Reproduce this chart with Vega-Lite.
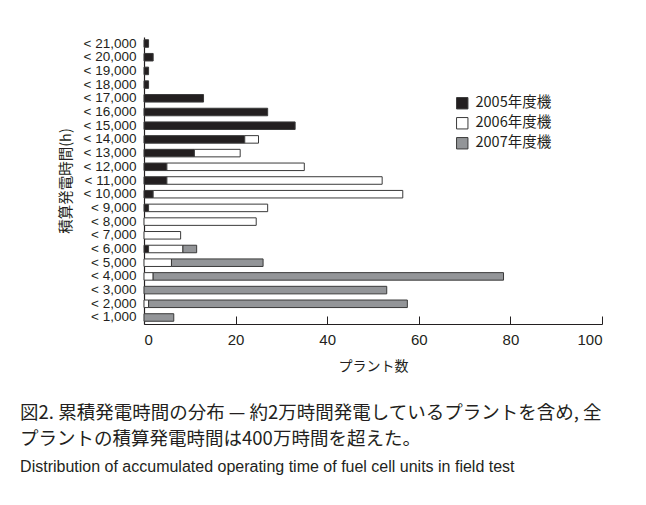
{
  "$schema": "https://vega.github.io/schema/vega-lite/v6.json",
  "width": 458,
  "height": 287,
  "autosize": {"type": "none"},
  "padding": {"left": 144, "top": 37, "right": 44, "bottom": 181},
  "background": "white",
  "config": {"view": {"stroke": null}},
  "title": {
    "text": ["図2. 累積発電時間の分布 — 約2万時間発電しているプラントを含め, 全", "プラントの積算発電時間は400万時間を超えた。"],
    "subtitle": "Distribution of accumulated operating time of fuel cell units in field test",
    "orient": "bottom",
    "anchor": "start",
    "frame": "bounds",
    "offset": 31,
    "dx": -38,
    "font": "Noto Sans CJK JP",
    "fontSize": 18.5,
    "fontWeight": "normal",
    "color": "#231f20",
    "lineHeight": 26,
    "subtitleFont": "Liberation Sans",
    "subtitleFontSize": 16,
    "subtitleColor": "#231f20",
    "subtitlePadding": 10
  },
  "data": {
    "values": [
      {"range": "< 21,000", "year": "2005年度機", "count": 1},
      {"range": "< 20,000", "year": "2005年度機", "count": 2},
      {"range": "< 19,000", "year": "2005年度機", "count": 1},
      {"range": "< 18,000", "year": "2005年度機", "count": 1},
      {"range": "< 17,000", "year": "2005年度機", "count": 13},
      {"range": "< 16,000", "year": "2005年度機", "count": 27},
      {"range": "< 15,000", "year": "2005年度機", "count": 33},
      {"range": "< 14,000", "year": "2005年度機", "count": 22},
      {"range": "< 14,000", "year": "2006年度機", "count": 3},
      {"range": "< 13,000", "year": "2005年度機", "count": 11},
      {"range": "< 13,000", "year": "2006年度機", "count": 10},
      {"range": "< 12,000", "year": "2005年度機", "count": 5},
      {"range": "< 12,000", "year": "2006年度機", "count": 30},
      {"range": "< 11,000", "year": "2005年度機", "count": 5},
      {"range": "< 11,000", "year": "2006年度機", "count": 47},
      {"range": "< 10,000", "year": "2005年度機", "count": 2},
      {"range": "< 10,000", "year": "2006年度機", "count": 54.5},
      {"range": "< 9,000", "year": "2005年度機", "count": 1},
      {"range": "< 9,000", "year": "2006年度機", "count": 26},
      {"range": "< 8,000", "year": "2006年度機", "count": 24.5},
      {"range": "< 7,000", "year": "2006年度機", "count": 8},
      {"range": "< 6,000", "year": "2005年度機", "count": 1},
      {"range": "< 6,000", "year": "2006年度機", "count": 7.5},
      {"range": "< 6,000", "year": "2007年度機", "count": 3},
      {"range": "< 5,000", "year": "2006年度機", "count": 6},
      {"range": "< 5,000", "year": "2007年度機", "count": 20},
      {"range": "< 4,000", "year": "2006年度機", "count": 2},
      {"range": "< 4,000", "year": "2007年度機", "count": 76.5},
      {"range": "< 3,000", "year": "2007年度機", "count": 53},
      {"range": "< 2,000", "year": "2006年度機", "count": 1},
      {"range": "< 2,000", "year": "2007年度機", "count": 56.5},
      {"range": "< 1,000", "year": "2007年度機", "count": 6.5}
    ]
  },
  "mark": {"type": "bar", "stroke": "#3a3a3a", "strokeWidth": 1},
  "encoding": {
    "y": {
      "field": "range",
      "type": "nominal",
      "sort": ["< 21,000", "< 20,000", "< 19,000", "< 18,000", "< 17,000", "< 16,000", "< 15,000", "< 14,000", "< 13,000", "< 12,000", "< 11,000", "< 10,000", "< 9,000", "< 8,000", "< 7,000", "< 6,000", "< 5,000", "< 4,000", "< 3,000", "< 2,000", "< 1,000"],
      "scale": {"paddingInner": 0.45, "paddingOuter": 0.2},
      "axis": {
        "title": "積算発電時間(h)",
        "titleFont": "Noto Sans CJK JP",
        "titleFontSize": 14.5,
        "titleFontWeight": "normal",
        "titleColor": "#231f20",
        "titlePadding": 10,
        "labelFont": "Liberation Sans",
        "labelFontSize": 13.5,
        "labelColor": "#231f20",
        "labelPadding": 8,
        "ticks": false,
        "domainColor": "#231f20",
        "domainWidth": 1.2
      }
    },
    "x": {
      "field": "count",
      "type": "quantitative",
      "stack": "zero",
      "scale": {"domain": [0, 100], "nice": false},
      "axis": {
        "values": [0, 20, 40, 60, 80, 100],
        "grid": false,
        "title": "プラント数",
        "titleFont": "Noto Sans CJK JP",
        "titleFontSize": 14,
        "titleFontWeight": "normal",
        "titleColor": "#231f20",
        "titlePadding": 12,
        "labelFont": "Liberation Sans",
        "labelFontSize": 15,
        "labelColor": "#231f20",
        "labelPadding": 16,
        "tickSize": -8,
        "tickColor": "#231f20",
        "domainColor": "#231f20",
        "domainWidth": 1.2
      }
    },
    "color": {
      "field": "year",
      "type": "nominal",
      "scale": {"domain": ["2005年度機", "2006年度機", "2007年度機"], "range": ["#231f20", "#ffffff", "#939598"]},
      "legend": {
        "title": null,
        "orient": "none",
        "legendX": 311,
        "legendY": 59,
        "symbolType": "square",
        "symbolSize": 130,
        "symbolStrokeColor": "#3a3a3a",
        "symbolStrokeWidth": 1,
        "labelFont": "Noto Sans CJK JP",
        "labelFontSize": 14.5,
        "labelColor": "#231f20",
        "labelOffset": 6,
        "rowPadding": 4
      }
    }
  }
}
